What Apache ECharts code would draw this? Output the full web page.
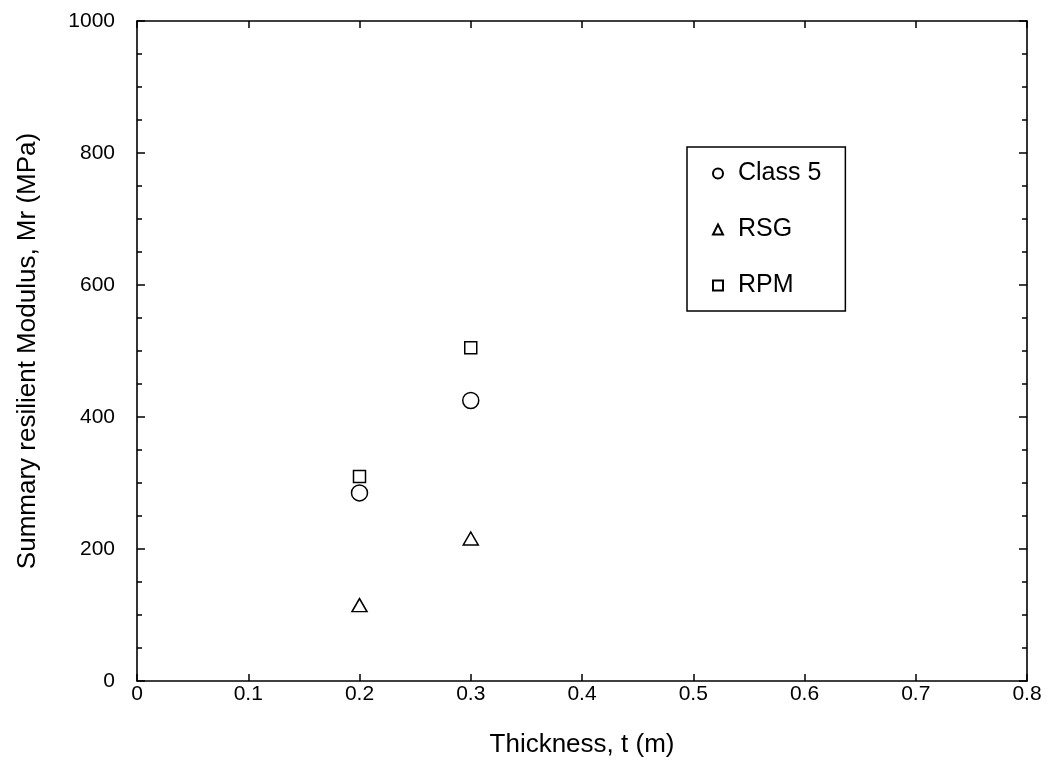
<!DOCTYPE html>
<html>
<head>
<meta charset="utf-8">
<script src="https://cdn.jsdelivr.net/npm/echarts@6/dist/echarts.min.js"></script>
<style>html,body{margin:0;padding:0;background:#fff;}#c{width:1052px;height:782px;}</style>
</head>
<body>
<div id="c"></div>
<script>
const thickness = [0.2, 0.3];
const class5 = [285, 425];
const rsg = [115, 216];
const rpm = [310, 505];
const seriesNames = ['Class 5', 'RSG', 'RPM'];
const xTitle = 'Thickness, t (m)';
const yTitle = 'Summary resilient Modulus, Mr (MPa)';

const FONT = 'Liberation Sans, Arial, sans-serif';
const pair = (ys) => thickness.map((x, i) => [x, ys[i]]);
const axisLine = { show: true, onZero: false, lineStyle: { color: '#000', width: 1.6 } };
const symStyle = { color: '#fff', borderColor: '#000', borderWidth: 1.5, opacity: 1 };

const chart = echarts.init(document.getElementById('c'), null, { renderer: 'canvas' });
chart.setOption({
  animation: false,
  backgroundColor: '#fff',
  textStyle: { fontFamily: FONT, color: '#000' },
  grid: { left: 137, right: 25, top: 21, bottom: 101 },
  legend: {
    orient: 'vertical', left: 687, top: 147,
    padding: [14, 24, 13, 25],
    itemGap: 31, itemWidth: 10, itemHeight: 10,
    symbolKeepAspect: true,
    borderColor: '#000', borderWidth: 1.5,
    textStyle: { fontFamily: FONT, fontSize: 25, color: '#000', padding: [0, 0, 0, 10] },
    data: seriesNames
  },
  xAxis: [{
    type: 'value', min: 0, max: 0.8, interval: 0.1,
    name: xTitle, nameLocation: 'middle', nameGap: 51,
    nameTextStyle: { fontFamily: FONT, fontSize: 26, color: '#000' },
    axisLine: axisLine,
    axisTick: { show: true, inside: true, length: 7, lineStyle: { color: '#000', width: 1.5 } },
    axisLabel: { fontFamily: FONT, fontSize: 21, color: '#000', margin: 3 },
    splitLine: { show: false }
  }, {
    type: 'value', min: 0, max: 0.8, interval: 0.1, position: 'top',
    axisLine: axisLine,
    axisTick: { show: true, inside: true, length: 7, lineStyle: { color: '#000', width: 1.5 } },
    axisLabel: { show: false }, splitLine: { show: false }
  }],
  yAxis: [{
    type: 'value', min: 0, max: 1000, interval: 200,
    name: yTitle, nameLocation: 'middle', nameGap: 96, nameRotate: 90,
    nameTextStyle: { fontFamily: FONT, fontSize: 26, color: '#000' },
    axisLine: axisLine,
    axisTick: { show: true, inside: true, length: 8, lineStyle: { color: '#000', width: 1.5 } },
    minorTick: { show: true, splitNumber: 4, length: 5, lineStyle: { color: '#000', width: 1.5 } },
    axisLabel: { fontFamily: FONT, fontSize: 21, color: '#000', margin: 22, formatter: (v) => String(v) },
    splitLine: { show: false }, minorSplitLine: { show: false }
  }, {
    type: 'value', min: 0, max: 1000, interval: 200, position: 'right',
    axisLine: axisLine,
    axisTick: { show: true, inside: true, length: 8, lineStyle: { color: '#000', width: 1.5 } },
    minorTick: { show: true, splitNumber: 4, length: 5, lineStyle: { color: '#000', width: 1.5 } },
    axisLabel: { show: false }, splitLine: { show: false }, minorSplitLine: { show: false }
  }],
  series: [
    { name: seriesNames[0], type: 'scatter', symbol: 'circle', symbolSize: 16, data: pair(class5), itemStyle: symStyle, z: 3 },
    { name: seriesNames[1], type: 'scatter', symbol: 'triangle', symbolSize: [15, 13], data: pair(rsg), itemStyle: symStyle, z: 3 },
    { name: seriesNames[2], type: 'scatter', symbol: 'rect', symbolSize: 12, data: pair(rpm), itemStyle: symStyle, z: 4 }
  ]
});
</script>
</body>
</html>
